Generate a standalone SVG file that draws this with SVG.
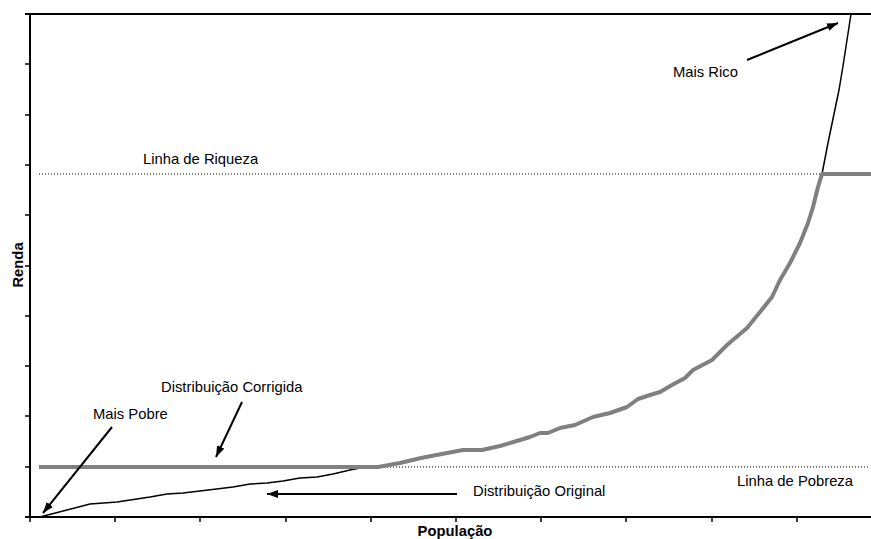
<svg xmlns="http://www.w3.org/2000/svg" width="871" height="539" viewBox="0 0 871 539">
<style>
text{font-family:"Liberation Sans",Arial,sans-serif;font-size:14.8px;fill:#000}
.b{font-weight:bold}
.ax{stroke:#000;stroke-width:2;fill:none}
.tk{stroke:#000;stroke-width:1.5;fill:none}
.dot{stroke:#000;stroke-width:1;stroke-dasharray:1 2;fill:none}
.arr{stroke:#000;stroke-width:2;fill:none;marker-end:url(#ah)}
</style>
<defs>
<marker id="ah" markerUnits="userSpaceOnUse" markerWidth="12" markerHeight="9" refX="11" refY="4" orient="auto">
<path d="M0,0 L11,4 L0,8 Z" fill="#000"/>
</marker>
</defs>
<rect width="871" height="539" fill="#fff"/>
<g id="axes">
<path class="ax" d="M25,14 H871 M30,14 V518 M25,517 H871"/>
<path class="tk" d="M25,64 H30 M25,115 H30 M25,165 H30 M25,215 H30 M25,266 H30 M25,316 H30 M25,366 H30 M25,416 H30 M25,467 H30"/>
<path class="tk" d="M30,517 V522 M115,517 V522 M200,517 V522 M286,517 V522 M371,517 V522 M456,517 V522 M541,517 V522 M626,517 V522 M712,517 V522 M797,517 V522"/>
</g>
<g id="reference-lines">
<path class="dot" d="M39,174 H822"/>
<path class="dot" d="M39,467 H868"/>
</g>
<g id="original-distribution">
<path d="M40,517 L90,504 L117,502 L150,497 L167,494 L183,493 L200,491 L233,487 L250,484 L267,483 L283,481 L300,478 L317,477 L333,474 L350,470 L360,468 L378,467 L400,463 L421,458 L447,453 L463,450 L482,450 L500,446 L530,437 L540,433 L548,433 L560,428 L575,425 L593,417 L610,413 L627,407 L638,399 L650,395 L660,392 L672,385 L685,378 L693,370 L712,360 L727,345 L747,328 L760,312 L772,297 L780,280 L790,263 L800,243 L808,223 L813,207 L818,187 L822,174 L828,143 L834,114 L839,90 L843,66 L847,40 L851,14" fill="none" stroke="#000" stroke-width="1.5" stroke-linejoin="round"/>
</g>
<g id="corrected-distribution">
<path d="M39,467 L378,467 L400,463 L421,458 L447,453 L463,450 L482,450 L500,446 L530,437 L540,433 L548,433 L560,428 L575,425 L593,417 L610,413 L627,407 L638,399 L650,395 L660,392 L672,385 L685,378 L693,370 L712,360 L727,345 L747,328 L760,312 L772,297 L780,280 L790,263 L800,243 L808,223 L813,207 L818,187 L822,174 L871,174" fill="none" stroke="#808080" stroke-width="4" stroke-linejoin="round"/>
</g>
<g id="connectors">
<line class="arr" x1="747" y1="60" x2="838" y2="23"/>
<line class="arr" x1="112" y1="427" x2="43" y2="513"/>
<line class="arr" x1="242" y1="402" x2="216" y2="457"/>
<line class="arr" x1="457" y1="494" x2="267" y2="494"/>
</g>
<g id="label-mais-rico"><text x="673" y="77">Mais Rico</text></g>
<g id="label-linha-riqueza"><text x="143" y="164">Linha de Riqueza</text></g>
<g id="label-dist-corrigida"><text x="161" y="392">Distribuição Corrigida</text></g>
<g id="label-mais-pobre"><text x="93" y="419">Mais Pobre</text></g>
<g id="label-dist-original"><text x="473" y="496">Distribuição Original</text></g>
<g id="label-linha-pobreza"><text x="737" y="486">Linha de Pobreza</text></g>
<g id="label-populacao"><text class="b" x="455" y="536" text-anchor="middle">População</text></g>
<g id="label-renda"><text class="b" transform="translate(22.5,265) rotate(-90)" text-anchor="middle">Renda</text></g>
</svg>
